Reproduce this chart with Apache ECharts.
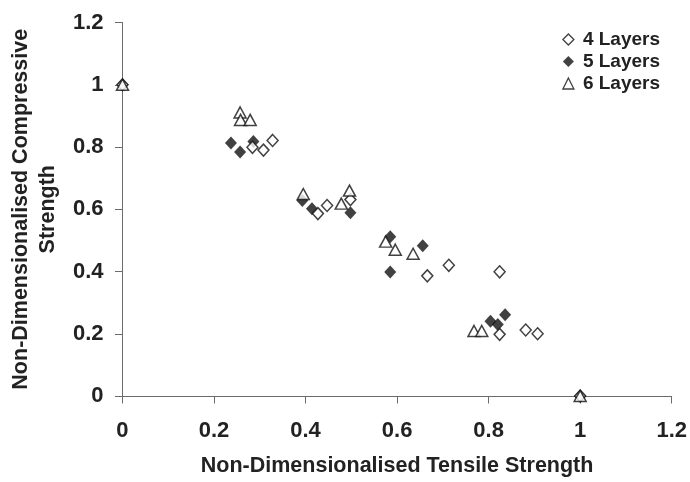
<!DOCTYPE html>
<html><head><meta charset="utf-8">
<script src="https://cdn.jsdelivr.net/npm/echarts@6/dist/echarts.min.js"></script>
<style>html,body{margin:0;padding:0;background:#fff}#c{width:690px;height:482px}</style>
</head><body><div id="c"></div>
<script>
const xTicks = [0, 0.2, 0.4, 0.6, 0.8, 1, 1.2];
const yTicks = [0, 0.2, 0.4, 0.6, 0.8, 1, 1.2];
const layers4 = [[0,1],[0.284,0.799],[0.308,0.790],[0.328,0.821],[0.427,0.586],[0.447,0.612],[0.498,0.631],[0.666,0.386],[0.713,0.420],[0.824,0.399],[0.824,0.198],[0.881,0.212],[0.907,0.200],[1,0]];
const layers5 = [[0,1],[0.237,0.813],[0.257,0.784],[0.286,0.818],[0.393,0.628],[0.414,0.602],[0.498,0.589],[0.585,0.512],[0.585,0.398],[0.656,0.483],[0.804,0.240],[0.820,0.230],[0.836,0.261],[1,0]];
const layers6 = [[0,1],[0.257,0.911],[0.258,0.887],[0.279,0.887],[0.395,0.649],[0.478,0.618],[0.496,0.660],[0.575,0.496],[0.596,0.470],[0.635,0.457],[0.768,0.209],[0.785,0.209],[1,0]];
const names = ['4 Layers','5 Layers','6 Layers'];

const ff = '"Liberation Sans", Arial, sans-serif';
const chart = echarts.init(document.getElementById('c'));
const lineCol = '#6b6b6b';
const labelBase = {color:'#222',fontFamily:ff,fontWeight:'bold',fontSize:22,formatter:v=>String(+v.toFixed(1))};
const nameBase = {color:'#222',fontFamily:ff,fontWeight:'bold',fontSize:21.5};
function axis(extra){
  return Object.assign({
    type:'value',interval:0.2,nameLocation:'middle',
    axisLine:{show:true,onZero:false,lineStyle:{color:lineCol,width:1}},
    axisTick:{show:true,inside:false,length:7.5,lineStyle:{color:lineCol}},
    splitLine:{show:false}
  }, extra);
}
chart.setOption({
  animation:false,
  grid:{left:122,right:15,top:22.5,bottom:80},
  legend:{
    orient:'vertical',right:25,top:25,itemGap:3,itemWidth:11,itemHeight:11,
    textStyle:{fontFamily:ff,fontWeight:'bold',fontSize:19,color:'#222',padding:[0,0,0,4]},
    data:[
      {name:names[0],icon:'diamond',itemStyle:{color:'#fff',borderColor:'#111',borderWidth:1.3}},
      {name:names[1],icon:'diamond',itemStyle:{color:'#111',borderWidth:0}},
      {name:names[2],icon:'triangle',itemStyle:{color:'#fff',borderColor:'#111',borderWidth:1.3}}
    ]
  },
  xAxis:axis({min:xTicks[0],max:xTicks[xTicks.length-1],
    name:'Non-Dimensionalised Tensile Strength',nameGap:59,nameTextStyle:nameBase,
    axisLabel:Object.assign({},labelBase,{margin:24})}),
  yAxis:axis({min:yTicks[0],max:yTicks[yTicks.length-1],
    name:'Non-Dimensionalised Compressive\nStrength',nameGap:54,
    nameTextStyle:Object.assign({},nameBase,{lineHeight:27}),
    axisLabel:Object.assign({},labelBase,{margin:19})}),
  series:[
    {name:names[1],type:'scatter',data:layers5,symbol:'diamond',symbolSize:[12,13],z:2,
     itemStyle:{color:'#111',borderColor:'#111',borderWidth:0}},
    {name:names[0],type:'scatter',data:layers4,symbol:'diamond',symbolSize:[11,12],z:3,
     itemStyle:{color:'#fff',borderColor:'#111',borderWidth:1.5}},
    {name:names[2],type:'scatter',data:layers6,symbol:'triangle',symbolSize:[12,11],z:4,
     itemStyle:{color:'#fff',borderColor:'#111',borderWidth:1.5}}
  ]
});
</script></body></html>
